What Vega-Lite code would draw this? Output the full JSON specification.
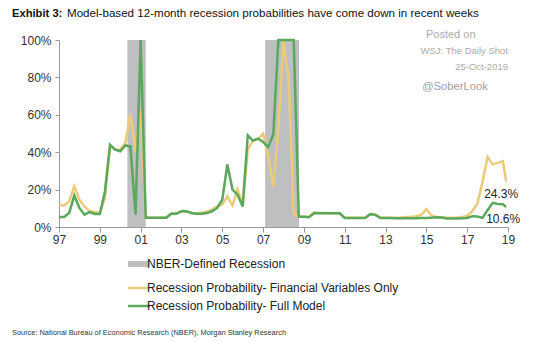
{
  "$schema": "https://vega.github.io/schema/vega-lite/v6.json",
  "width": 449,
  "height": 187,
  "autosize": "none",
  "padding": {"left": 59, "top": 40, "right": 33, "bottom": 115},
  "background": "white",
  "config": {
    "font": "Liberation Sans",
    "view": {"stroke": null},
    "axis": {"grid": false, "domainColor": "#999999", "tickColor": "#999999", "labelColor": "#333333", "labelFont": "Liberation Sans", "labelFontSize": 12, "labelOverlap": false, "title": null}
  },
  "datasets": {
    "probs": [
      {"year": 1997.00, "fin": 0.120, "full": 0.054},
      {"year": 1997.25, "fin": 0.114, "full": 0.054},
      {"year": 1997.50, "fin": 0.137, "full": 0.075},
      {"year": 1997.75, "fin": 0.218, "full": 0.168},
      {"year": 1998.00, "fin": 0.145, "full": 0.102},
      {"year": 1998.25, "fin": 0.110, "full": 0.066},
      {"year": 1998.50, "fin": 0.085, "full": 0.080},
      {"year": 1998.75, "fin": 0.080, "full": 0.070},
      {"year": 1999.00, "fin": 0.075, "full": 0.070},
      {"year": 1999.25, "fin": 0.155, "full": 0.190},
      {"year": 1999.50, "fin": 0.430, "full": 0.440},
      {"year": 1999.75, "fin": 0.414, "full": 0.414},
      {"year": 2000.00, "fin": 0.414, "full": 0.405},
      {"year": 2000.25, "fin": 0.450, "full": 0.436},
      {"year": 2000.50, "fin": 0.607, "full": 0.430},
      {"year": 2000.75, "fin": 0.400, "full": 0.066},
      {"year": 2001.00, "fin": 0.625, "full": 1.000},
      {"year": 2001.25, "fin": 0.052, "full": 0.050},
      {"year": 2001.50, "fin": 0.050, "full": 0.050},
      {"year": 2001.75, "fin": 0.050, "full": 0.050},
      {"year": 2002.00, "fin": 0.050, "full": 0.050},
      {"year": 2002.25, "fin": 0.050, "full": 0.050},
      {"year": 2002.50, "fin": 0.071, "full": 0.071},
      {"year": 2002.75, "fin": 0.073, "full": 0.071},
      {"year": 2003.00, "fin": 0.084, "full": 0.084},
      {"year": 2003.25, "fin": 0.082, "full": 0.084},
      {"year": 2003.50, "fin": 0.073, "full": 0.075},
      {"year": 2003.75, "fin": 0.072, "full": 0.071},
      {"year": 2004.00, "fin": 0.076, "full": 0.071},
      {"year": 2004.25, "fin": 0.083, "full": 0.075},
      {"year": 2004.50, "fin": 0.093, "full": 0.084},
      {"year": 2004.75, "fin": 0.110, "full": 0.102},
      {"year": 2005.00, "fin": 0.120, "full": 0.146},
      {"year": 2005.25, "fin": 0.164, "full": 0.334},
      {"year": 2005.50, "fin": 0.115, "full": 0.200},
      {"year": 2005.75, "fin": 0.200, "full": 0.173},
      {"year": 2006.00, "fin": 0.120, "full": 0.110},
      {"year": 2006.25, "fin": 0.414, "full": 0.490},
      {"year": 2006.50, "fin": 0.460, "full": 0.462},
      {"year": 2006.75, "fin": 0.470, "full": 0.473},
      {"year": 2007.00, "fin": 0.498, "full": 0.455},
      {"year": 2007.25, "fin": 0.380, "full": 0.427},
      {"year": 2007.50, "fin": 0.215, "full": 0.495},
      {"year": 2007.75, "fin": 0.530, "full": 1.000},
      {"year": 2008.00, "fin": 0.990, "full": 1.000},
      {"year": 2008.25, "fin": 0.795, "full": 1.000},
      {"year": 2008.50, "fin": 0.070, "full": 1.000},
      {"year": 2008.75, "fin": 0.055, "full": 0.055},
      {"year": 2009.00, "fin": 0.055, "full": 0.055},
      {"year": 2009.25, "fin": 0.055, "full": 0.052},
      {"year": 2009.50, "fin": 0.078, "full": 0.073},
      {"year": 2009.75, "fin": 0.075, "full": 0.073},
      {"year": 2010.00, "fin": 0.075, "full": 0.073},
      {"year": 2010.25, "fin": 0.073, "full": 0.073},
      {"year": 2010.50, "fin": 0.074, "full": 0.073},
      {"year": 2010.75, "fin": 0.075, "full": 0.073},
      {"year": 2011.00, "fin": 0.050, "full": 0.048},
      {"year": 2011.25, "fin": 0.049, "full": 0.048},
      {"year": 2011.50, "fin": 0.049, "full": 0.048},
      {"year": 2011.75, "fin": 0.049, "full": 0.048},
      {"year": 2012.00, "fin": 0.050, "full": 0.048},
      {"year": 2012.25, "fin": 0.070, "full": 0.068},
      {"year": 2012.50, "fin": 0.067, "full": 0.065},
      {"year": 2012.75, "fin": 0.050, "full": 0.048},
      {"year": 2013.00, "fin": 0.049, "full": 0.048},
      {"year": 2013.25, "fin": 0.049, "full": 0.048},
      {"year": 2013.50, "fin": 0.050, "full": 0.047},
      {"year": 2013.75, "fin": 0.051, "full": 0.047},
      {"year": 2014.00, "fin": 0.053, "full": 0.047},
      {"year": 2014.25, "fin": 0.055, "full": 0.047},
      {"year": 2014.50, "fin": 0.058, "full": 0.047},
      {"year": 2014.75, "fin": 0.065, "full": 0.048},
      {"year": 2015.00, "fin": 0.095, "full": 0.048},
      {"year": 2015.25, "fin": 0.062, "full": 0.050},
      {"year": 2015.50, "fin": 0.053, "full": 0.052},
      {"year": 2015.75, "fin": 0.052, "full": 0.051},
      {"year": 2016.00, "fin": 0.050, "full": 0.046},
      {"year": 2016.25, "fin": 0.050, "full": 0.046},
      {"year": 2016.50, "fin": 0.051, "full": 0.046},
      {"year": 2016.75, "fin": 0.053, "full": 0.047},
      {"year": 2017.00, "fin": 0.060, "full": 0.048},
      {"year": 2017.25, "fin": 0.085, "full": 0.058},
      {"year": 2017.50, "fin": 0.125, "full": 0.056},
      {"year": 2017.75, "fin": 0.240, "full": 0.049},
      {"year": 2018.00, "fin": 0.375, "full": 0.090},
      {"year": 2018.25, "fin": 0.335, "full": 0.129},
      {"year": 2018.50, "fin": 0.343, "full": 0.123},
      {"year": 2018.75, "fin": 0.352, "full": 0.122},
      {"year": 2018.91, "fin": 0.243, "full": 0.106}
    ],
    "recessions": [
      {"start": 2000.35, "end": 2001.25},
      {"start": 2007.10, "end": 2008.76}
    ],
    "one": [{}]
  },
  "layer": [
    {
      "data": {"name": "recessions"},
      "mark": {"type": "rect", "color": "#BEBFC1"},
      "encoding": {
        "x": {"field": "start", "type": "quantitative", "scale": {"domain": [1997, 2019], "nice": false, "zero": false},
              "axis": {"values": [1997, 1999, 2001, 2003, 2005, 2007, 2009, 2011, 2013, 2015, 2017, 2019], "tickCount": 30, "labelExpr": "slice(format(datum.value, 'd'), 2)", "tickSize": 5, "labelPadding": 2, "labelFlush": false, "labelOverlap": false}},
        "x2": {"field": "end"},
        "y": {"datum": 0, "type": "quantitative", "scale": {"domain": [0, 1], "nice": false},
              "axis": {"values": [0, 0.2, 0.4, 0.6, 0.8, 1], "tickCount": 20, "format": ".0%", "tickSize": 4, "labelPadding": 4, "labelOverlap": false, "labelFlush": false}},
        "y2": {"datum": 1},
        "color": {
          "datum": "NBER-Defined Recession",
          "scale": {"domain": ["NBER-Defined Recession", "Recession Probability- Financial Variables Only", "Recession Probability- Full Model"], "range": ["#BEBFC1", "#EBCB7A", "#5AA85C"]},
          "legend": {
            "title": null, "orient": "none", "legendX": 74, "legendY": 218, "direction": "vertical",
            "symbolType": "stroke", "symbolSize": 484, "symbolStrokeWidth": 2.5,
            "labelFontSize": 12, "labelColor": "#222222", "labelOffset": 2, "rowPadding": 6, "labelLimit": 400,
            "encode": {"symbols": {"update": {
              "stroke": {"scale": "color", "field": "value"},
              "fill": {"value": "transparent"},
              "strokeWidth": {"signal": "datum.label == 'NBER-Defined Recession' ? 6 : 2.5"}
            }}}
          }
        }
      }
    },
    {
      "data": {"name": "probs"},
      "mark": {"type": "line", "strokeWidth": 2.5},
      "encoding": {
        "x": {"field": "year", "type": "quantitative"},
        "y": {"field": "fin", "type": "quantitative"},
        "color": {"datum": "Recession Probability- Financial Variables Only"}
      }
    },
    {
      "data": {"name": "probs"},
      "mark": {"type": "line", "strokeWidth": 2.5},
      "encoding": {
        "x": {"field": "year", "type": "quantitative"},
        "y": {"field": "full", "type": "quantitative"},
        "color": {"datum": "Recession Probability- Full Model"}
      }
    },
    {
      "data": {"name": "probs"},
      "transform": [{"filter": {"field": "year", "equal": 2018.91}}],
      "mark": {"type": "text", "fontSize": 12, "color": "#222222", "dx": -5, "dy": 12, "baseline": "middle"},
      "encoding": {
        "x": {"field": "year", "type": "quantitative"},
        "y": {"field": "fin", "type": "quantitative"},
        "text": {"field": "fin", "type": "quantitative", "format": ".1%"}
      }
    },
    {
      "data": {"name": "probs"},
      "transform": [{"filter": {"field": "year", "equal": 2018.91}}],
      "mark": {"type": "text", "fontSize": 12, "color": "#222222", "dx": -3, "dy": 12, "baseline": "middle"},
      "encoding": {
        "x": {"field": "year", "type": "quantitative"},
        "y": {"field": "full", "type": "quantitative"},
        "text": {"field": "full", "type": "quantitative", "format": ".1%"}
      }
    },
    {
      "data": {"name": "one"},
      "mark": {"type": "text", "text": "Exhibit 3:", "fontSize": 11.2, "fontWeight": "bold", "color": "#111111", "align": "left", "baseline": "middle"},
      "encoding": {"x": {"datum": 1994.697, "type": "quantitative"}, "y": {"datum": 1.139, "type": "quantitative"}}
    },
    {
      "data": {"name": "one"},
      "mark": {"type": "text", "text": "Model-based 12-month recession probabilities have come down in recent weeks", "fontSize": 11.6, "color": "#111111", "align": "left", "baseline": "middle"},
      "encoding": {"x": {"datum": 1997.392, "type": "quantitative"}, "y": {"datum": 1.139, "type": "quantitative"}}
    },
    {
      "data": {"name": "one"},
      "mark": {"type": "text", "text": "Posted on", "fontSize": 11, "color": "#ABABAB", "align": "left", "baseline": "middle"},
      "encoding": {"x": {"datum": 2014.98, "type": "quantitative"}, "y": {"datum": 1.027, "type": "quantitative"}}
    },
    {
      "data": {"name": "one"},
      "mark": {"type": "text", "text": "WSJ: The Daily Shot", "fontSize": 9.5, "color": "#ABABAB", "align": "right", "baseline": "middle"},
      "encoding": {"x": {"datum": 2019.0, "type": "quantitative"}, "y": {"datum": 0.941, "type": "quantitative"}}
    },
    {
      "data": {"name": "one"},
      "mark": {"type": "text", "text": "25-Oct-2019", "fontSize": 9.5, "color": "#ABABAB", "align": "right", "baseline": "middle"},
      "encoding": {"x": {"datum": 2019.0, "type": "quantitative"}, "y": {"datum": 0.856, "type": "quantitative"}}
    },
    {
      "data": {"name": "one"},
      "mark": {"type": "text", "text": "@SoberLook", "fontSize": 11.2, "color": "#A0A0A0", "align": "left", "baseline": "middle"},
      "encoding": {"x": {"datum": 2014.80, "type": "quantitative"}, "y": {"datum": 0.749, "type": "quantitative"}}
    },
    {
      "data": {"name": "one"},
      "mark": {"type": "text", "text": "Source: National Bureau of Economic Research (NBER), Morgan Stanley Research", "fontSize": 7.4, "color": "#333333", "align": "left", "baseline": "middle"},
      "encoding": {"x": {"datum": 1994.697, "type": "quantitative"}, "y": {"datum": -0.567, "type": "quantitative"}}
    }
  ]
}
